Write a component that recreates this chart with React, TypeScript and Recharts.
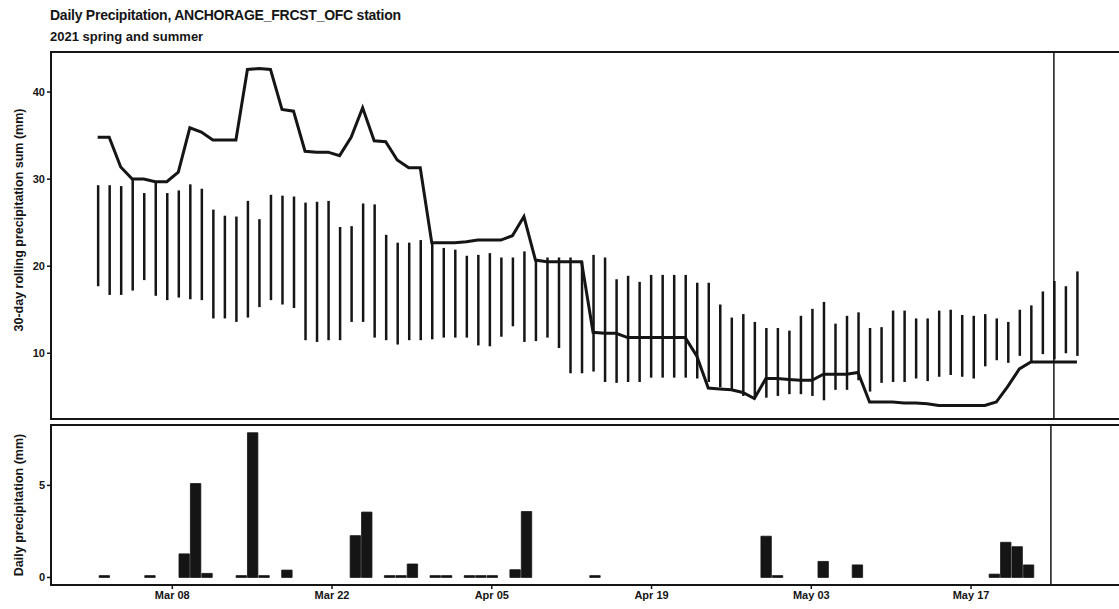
import React from "react";
import {
  ComposedChart,
  BarChart,
  Bar,
  Line,
  XAxis,
  YAxis,
  ReferenceArea,
  ReferenceLine,
} from "recharts";

// x positions are days counted from 1 March 2021 (= day 0)
const ROLL_FIRST_DAY = 1;

// 30-day rolling precipitation sum for 2021 (mm)
const rollingSum = [
  34.8, 34.8, 31.4, 30.0, 30.0, 29.7, 29.7, 30.8, 35.9, 35.4,
  34.5, 34.5, 34.5, 42.6, 42.7, 42.6, 38.0, 37.8, 33.2, 33.1,
  33.1, 32.7, 34.8, 38.2, 34.4, 34.3, 32.2, 31.3, 31.3, 22.7,
  22.7, 22.7, 22.8, 23.0, 23.0, 23.0, 23.5, 25.7, 20.7, 20.5,
  20.5, 20.5, 20.5, 12.4, 12.3, 12.3, 11.8, 11.8, 11.8, 11.8,
  11.8, 11.8, 9.7, 6.0, 5.9, 5.8, 5.5, 4.8, 7.1, 7.1,
  7.0, 6.9, 6.9, 7.6, 7.6, 7.6, 7.8, 4.4, 4.4, 4.4,
  4.3, 4.3, 4.2, 4.0, 4.0, 4.0, 4.0, 4.0, 4.4, 6.2,
  8.2, 9.0, 9.0, 9.0, 9.0, 9.0,
];

// normal range of the rolling sum (low / high, mm)
const normalLow = [
  17.7, 16.7, 16.7, 17.2, 18.4, 16.6, 16.1, 16.4, 16.2, 16.1,
  14.0, 14.0, 13.6, 14.1, 15.3, 16.1, 15.6, 15.2, 11.5, 11.3,
  11.5, 11.5, 13.6, 13.6, 11.8, 11.5, 11.0, 11.5, 11.5, 11.6,
  11.8, 11.8, 11.8, 10.9, 10.8, 11.9, 13.1, 11.3, 11.4, 11.8,
  10.6, 7.7, 7.7, 7.9, 6.7, 6.6, 6.7, 6.7, 7.2, 7.2,
  7.2, 7.2, 7.1, 6.7, 6.1, 5.8, 5.1, 4.9, 4.9, 5.1,
  5.3, 5.3, 5.1, 4.6, 5.8, 5.8, 6.9, 5.6, 6.6, 6.7,
  6.7, 7.1, 6.8, 7.3, 7.5, 7.3, 7.1, 8.5, 9.2, 8.9,
  9.7, 9.0, 9.9, 9.3, 10.0, 9.7,
];

const normalHigh = [
  29.3, 29.3, 29.2, 29.9, 28.4, 29.6, 28.4, 28.7, 29.4, 28.9,
  26.5, 25.8, 25.7, 27.5, 25.4, 28.2, 28.1, 28.0, 27.3, 27.4,
  27.5, 24.5, 24.6, 27.2, 27.1, 23.6, 22.7, 22.7, 23.0, 22.7,
  22.1, 21.9, 21.2, 21.3, 21.5, 21.0, 21.0, 21.7, 20.7, 21.0,
  21.0, 21.0, 20.6, 21.3, 21.0, 18.5, 18.9, 18.2, 19.0, 19.0,
  19.0, 19.0, 18.1, 18.1, 15.6, 14.1, 14.5, 13.6, 12.9, 12.9,
  12.6, 14.3, 15.1, 15.9, 13.4, 14.3, 14.7, 12.9, 13.0, 14.9,
  14.9, 14.0, 14.0, 14.9, 15.0, 14.4, 14.3, 14.5, 14.0, 13.6,
  15.0, 15.5, 17.1, 18.3, 17.7, 19.4,
];

// daily observed precipitation (mm)
const dailyDays = [
  1, 5, 8, 9, 10, 13, 14, 15, 17, 23, 24, 26, 27, 28, 30,
  31, 33, 34, 35, 37, 38, 44, 59, 60, 64, 67, 79, 80, 81, 82,
];
const dailyPrecip = [
  0.1, 0.1, 1.28, 5.1, 0.22, 0.1, 7.86, 0.1, 0.4, 2.27, 3.55, 0.1, 0.1, 0.73, 0.1,
  0.1, 0.1, 0.1, 0.1, 0.42, 3.58, 0.1, 2.24, 0.1, 0.87, 0.68, 0.18, 1.91, 1.67, 0.68,
];

const dateTicks = [7, 21, 35, 49, 63, 77];
const dateTickLabels = ["Mar 08", "Mar 22", "Apr 05", "Apr 19", "May 03", "May 17"];
const sumTicks = [10, 20, 30, 40];
const dailyTicks = [0, 5];

const MARKER_DAY = 84; // May 24

const INK = "#151515";
const FONT = "'Liberation Sans', Arial, Helvetica, sans-serif";

const TOP_X: [number, number] = [-3.05, 91.04];
const TOP_Y: [number, number] = [2.45, 44.6];
const BOT_X: [number, number] = [-3.63, 91.37];
const BOT_Y: [number, number] = [-0.41, 8.28];

const CHART_W = 1135;
const AXIS_W = 51;

const rollingData = rollingSum.map((v, i) => ({
  day: ROLL_FIRST_DAY + i,
  sum: v,
  range: [normalLow[i], normalHigh[i]],
}));

const dailyData = dailyDays.map((d, i) => ({ day: d, precip: dailyPrecip[i] }));

const tickStyle = { fontSize: 11, fontWeight: 700, fill: INK, fontFamily: FONT };

function dateLabel(v: number) {
  const k = dateTicks.indexOf(v);
  return k >= 0 ? dateTickLabels[k] : "";
}

export default function App() {
  return (
    <div
      style={{
        position: "absolute",
        left: 0,
        top: 0,
        width: 1119,
        height: 609,
        overflow: "hidden",
        background: "#fff",
      }}
    >
      <div style={{ position: "absolute", left: 0, top: 0 }}>
        <ComposedChart
          width={CHART_W}
          height={425}
          data={rollingData}
          margin={{ top: 52, right: 0, bottom: 6, left: 0 }}
        >
          <XAxis
            type="number"
            dataKey="day"
            domain={TOP_X}
            allowDataOverflow
            hide
          />
          <YAxis
            type="number"
            domain={TOP_Y}
            allowDataOverflow
            ticks={sumTicks}
            width={AXIS_W}
            tickSize={4}
            tickMargin={2}
            axisLine={false}
            tickLine={{ stroke: INK, strokeWidth: 1.5 }}
            tick={tickStyle}
          />
          <Bar
            dataKey="range"
            fill={INK}
            barSize={2.5}
            isAnimationActive={false}
          />
          <Line
            dataKey="sum"
            type="linear"
            stroke={INK}
            strokeWidth={3}
            dot={false}
            isAnimationActive={false}
          />
          <ReferenceLine x={MARKER_DAY} stroke={INK} strokeWidth={1.5} />
          <ReferenceArea
            x1={TOP_X[0]}
            x2={TOP_X[1]}
            y1={TOP_Y[0]}
            y2={TOP_Y[1]}
            fill="none"
            fillOpacity={0}
            stroke={INK}
            strokeWidth={2}
          />
        </ComposedChart>
      </div>

      <div style={{ position: "absolute", left: 0, top: 419 }}>
        <BarChart
          width={CHART_W}
          height={190}
          data={dailyData}
          margin={{ top: 6, right: 0, bottom: 0, left: 0 }}
        >
          <XAxis
            type="number"
            dataKey="day"
            domain={BOT_X}
            allowDataOverflow
            ticks={dateTicks}
            tickFormatter={dateLabel}
            height={24}
            tickSize={4}
            tickMargin={2}
            axisLine={false}
            tickLine={{ stroke: INK, strokeWidth: 1.5 }}
            tick={tickStyle}
          />
          <YAxis
            type="number"
            domain={BOT_Y}
            allowDataOverflow
            ticks={dailyTicks}
            width={AXIS_W}
            tickSize={4}
            tickMargin={2}
            axisLine={false}
            tickLine={{ stroke: INK, strokeWidth: 1.5 }}
            tick={tickStyle}
          />
          <Bar
            dataKey="precip"
            fill={INK}
            stroke={INK}
            strokeWidth={0.8}
            barSize={10.4}
            isAnimationActive={false}
          />
          <ReferenceLine x={MARKER_DAY} stroke={INK} strokeWidth={1.5} />
          <ReferenceArea
            x1={BOT_X[0]}
            x2={BOT_X[1]}
            y1={BOT_Y[0]}
            y2={BOT_Y[1]}
            fill="none"
            fillOpacity={0}
            stroke={INK}
            strokeWidth={2}
          />
        </BarChart>
      </div>

      <svg
        width={1119}
        height={609}
        style={{ position: "absolute", left: 0, top: 0, pointerEvents: "none" }}
        fontFamily={FONT}
        fill={INK}
      >
        <text x={50} y={20} fontSize={14} fontWeight={700} letterSpacing={-0.25}>
          Daily Precipitation, ANCHORAGE_FRCST_OFC station
        </text>
        <text x={50} y={41} fontSize={13} fontWeight={700}>
          2021 spring and summer
        </text>
        <text
          transform="translate(23 220) rotate(-90)"
          textAnchor="middle"
          fontSize={12.5}
          fontWeight={700}
        >
          30-day rolling precipitation sum (mm)
        </text>
        <text
          transform="translate(23 505) rotate(-90)"
          textAnchor="middle"
          fontSize={12.5}
          fontWeight={700}
        >
          Daily precipitation (mm)
        </text>
      </svg>
    </div>
  );
}
